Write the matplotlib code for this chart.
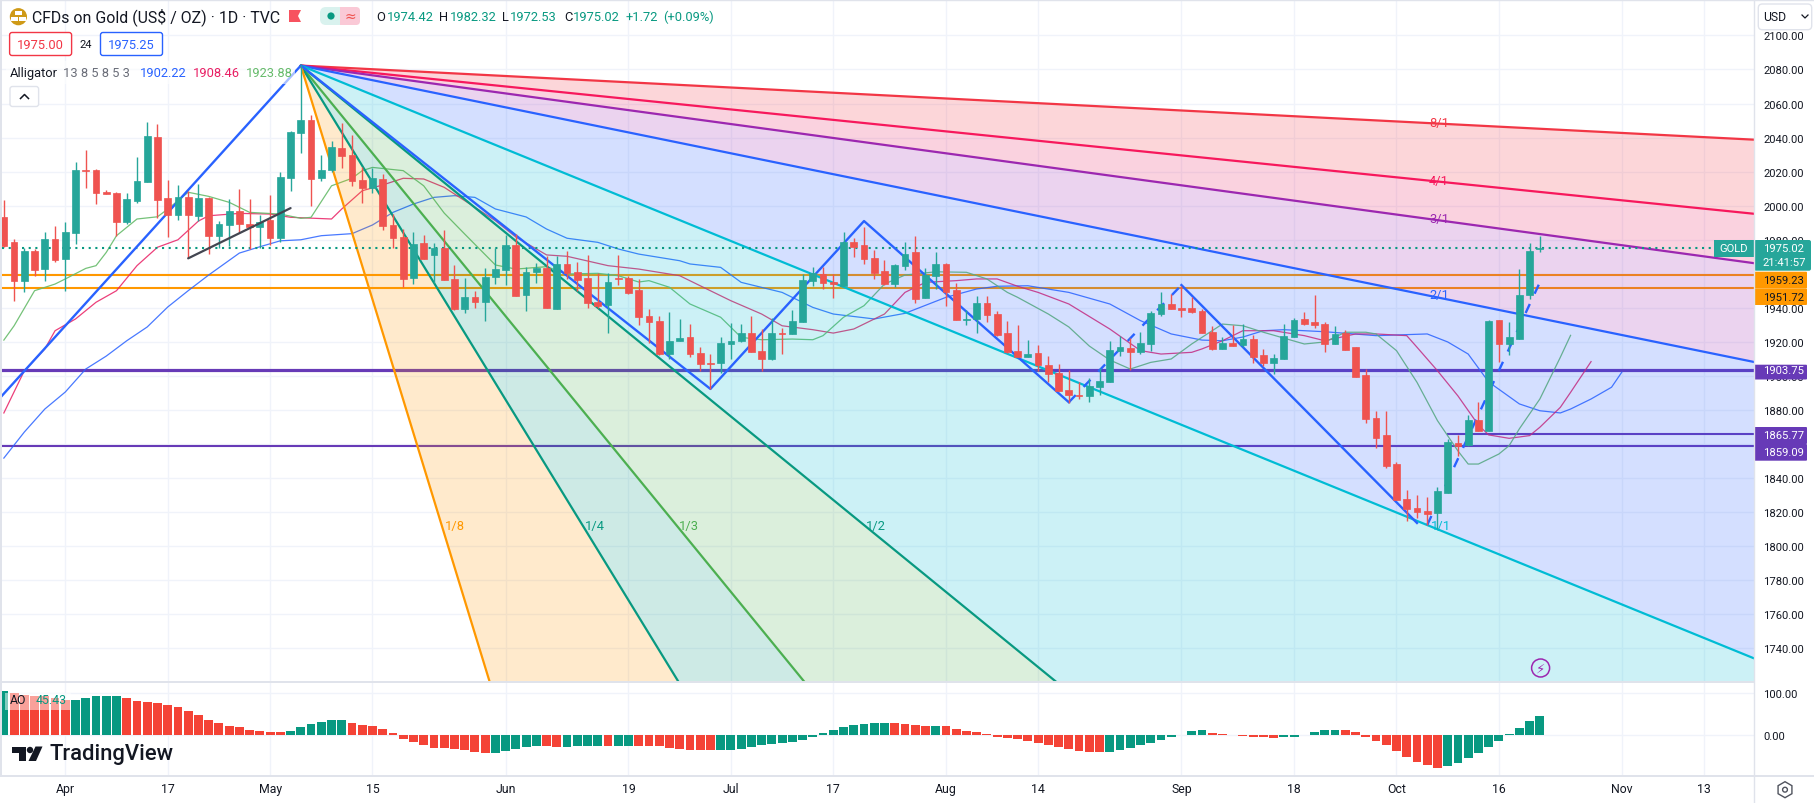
import numpy as np
import matplotlib
matplotlib.use("Agg")
import matplotlib.pyplot as plt
from matplotlib.patches import Rectangle, FancyBboxPatch, Circle, Polygon, RegularPolygon

plt.rcParams['font.family'] = ['Roboto', 'DejaVu Sans']

# ==================== data ====================
first_bar = -6  # bar 0 is the Apr 3 tick

opens = [1993.4, 1978.7, 1955.8, 1973.4, 1962.9, 1980.5, 1968.7, 1984.0, 2021.0, 2021.0,
         2008.1, 2007.5, 1990.5, 2002.8, 2013.9, 2040.4, 2004.5, 1994.6, 2005.1, 1994.0,
         2004.5, 1982.2, 1988.7, 1996.9, 1989.3, 1987.5, 1991.6, 1981.1, 2016.3, 2042.7,
         2050.3, 2016.3, 2021.0, 2033.9, 2029.8, 2015.1, 2010.4, 2015.7, 1988.7, 1981.7,
         1957.6, 1978.1, 1971.1, 1975.2, 1957.0, 1939.4, 1946.4, 1943.5, 1958.2, 1962.3,
         1977.0, 1947.6, 1961.1, 1963.5, 1939.4, 1965.8, 1961.1, 1957.6, 1943.5, 1941.7,
         1957.6, 1957.5, 1950.5, 1935.2, 1932.3, 1912.9, 1920.6, 1922.9, 1913.5, 1907.6,
         1907.6, 1918.8, 1920.6, 1925.3, 1914.7, 1910.0, 1925.3, 1924.7, 1931.7, 1955.8,
         1959.9, 1955.2, 1952.9, 1978.7, 1976.9, 1969.3, 1961.7, 1954.0, 1964.6, 1972.8,
         1945.8, 1958.7, 1965.8, 1950.5, 1933.1, 1933.5, 1942.9, 1936.4, 1925.3, 1914.7,
         1911.2, 1913.5, 1906.5, 1901.8, 1891.8, 1888.9, 1888.3, 1893.6, 1896.5, 1914.7,
         1916.5, 1914.1, 1918.8, 1936.4, 1942.3, 1939.9, 1939.9, 1938.2, 1925.8, 1915.9,
         1919.4, 1918.2, 1921.7, 1912.4, 1907.6, 1910.0, 1922.9, 1933.5, 1931.7, 1930.5,
         1918.8, 1925.3, 1917.0, 1900.6, 1875.4, 1865.4, 1848.4, 1827.8, 1822.5, 1820.8,
         1819.6, 1831.3, 1860.7, 1859.5, 1874.2, 1867.7, 1932.9, 1918.8, 1921.7, 1947.6,
         1974.42]
closes = [1976.4, 1955.8, 1973.4, 1962.3, 1980.5, 1968.1, 1984.6, 2021.0, 2020.6, 2007.5,
          2006.9, 1990.5, 2004.0, 2014.5, 2041.0, 2003.4, 1994.6, 2005.1, 1994.6, 2004.5,
          1982.2, 1989.3, 1996.9, 1989.3, 1987.5, 1990.3, 1981.1, 2016.9, 2043.3, 2050.3,
          2015.7, 2021.0, 2034.5, 2029.2, 2014.5, 2010.4, 2016.3, 1988.1, 1981.1, 1957.0,
          1977.5, 1968.7, 1975.2, 1956.4, 1939.4, 1946.4, 1943.5, 1958.2, 1962.9, 1977.0,
          1947.0, 1961.1, 1963.6, 1940.0, 1965.8, 1960.5, 1956.4, 1942.9, 1941.1, 1955.2,
          1957.0, 1948.7, 1934.7, 1931.7, 1912.9, 1920.6, 1922.3, 1912.9, 1907.1, 1907.1,
          1919.4, 1920.6, 1925.3, 1914.1, 1910.0, 1925.3, 1924.7, 1932.3, 1956.4, 1960.5,
          1954.6, 1954.0, 1978.7, 1975.7, 1968.7, 1960.5, 1954.0, 1965.2, 1971.6, 1945.2,
          1959.3, 1965.8, 1949.3, 1932.9, 1933.5, 1942.9, 1935.8, 1924.1, 1914.1, 1911.2,
          1912.9, 1906.5, 1901.2, 1891.2, 1888.9, 1888.3, 1894.1, 1897.1, 1915.3, 1917.1,
          1914.1, 1919.4, 1937.0, 1942.3, 1939.4, 1938.8, 1937.6, 1925.3, 1915.9, 1919.4,
          1917.8, 1921.7, 1911.2, 1907.6, 1910.6, 1923.7, 1932.9, 1930.5, 1930.0, 1918.8,
          1924.7, 1915.3, 1899.4, 1874.8, 1863.6, 1847.2, 1827.2, 1821.9, 1820.2, 1819.0,
          1832.5, 1861.3, 1858.9, 1874.2, 1867.7, 1932.3, 1918.8, 1922.9, 1947.6, 1973.4,
          1975.02]
highs = [2003.6, 1980.5, 1975.4, 1974.6, 1984.6, 1988.1, 1990.5, 2025.7, 2032.7, 2021.6,
         2009.2, 2008.1, 2007.5, 2028.6, 2049.2, 2048.0, 2015.1, 2012.2, 2008.7, 2012.8,
         2005.1, 1990.9, 2004.0, 2009.8, 2004.0, 1994.6, 2006.3, 2019.8, 2043.6, 2082.6,
         2053.3, 2029.8, 2038.0, 2048.6, 2041.5, 2022.7, 2022.2, 2018.6, 1995.2, 1986.3,
         1984.6, 1982.8, 1978.1, 1985.8, 1965.2, 1957.6, 1949.9, 1963.5, 1975.2, 1982.8,
         1983.4, 1964.0, 1966.4, 1970.5, 1970.5, 1973.4, 1967.0, 1971.1, 1960.5, 1960.5,
         1971.1, 1958.7, 1957.0, 1939.4, 1935.2, 1937.6, 1933.5, 1930.6, 1917.1, 1912.9,
         1922.9, 1931.1, 1930.6, 1935.2, 1927.6, 1934.1, 1928.2, 1938.8, 1959.9, 1964.0,
         1964.0, 1959.9, 1984.6, 1981.0, 1987.5, 1974.0, 1968.1, 1965.8, 1978.7, 1982.2,
         1963.4, 1972.8, 1966.4, 1954.6, 1938.8, 1947.0, 1947.0, 1938.2, 1932.3, 1930.0,
         1921.2, 1918.2, 1911.8, 1907.1, 1903.6, 1896.5, 1898.8, 1904.7, 1920.6, 1923.5,
         1922.3, 1925.8, 1938.2, 1949.3, 1948.2, 1952.9, 1946.4, 1939.4, 1929.4, 1922.7,
         1930.0, 1930.5, 1924.1, 1915.9, 1912.9, 1930.5, 1934.1, 1937.6, 1947.6, 1931.7,
         1929.4, 1927.0, 1917.0, 1904.1, 1879.5, 1879.5, 1849.5, 1833.1, 1830.2, 1829.0,
         1834.9, 1863.0, 1865.4, 1877.1, 1884.8, 1932.9, 1932.9, 1931.7, 1962.8, 1978.1,
         1982.32]
lows = [1975.6, 1944.1, 1949.4, 1959.0, 1955.8, 1967.0, 1949.9, 1977.5, 2010.4, 2001.0,
        2006.9, 1982.2, 1989.3, 2001.6, 2013.9, 1992.8, 1981.7, 1991.6, 1969.3, 1991.0,
        1971.7, 1975.2, 1976.4, 1984.0, 1974.6, 1975.2, 1977.0, 1978.7, 2008.7, 2030.9,
        1999.9, 2014.5, 2019.8, 2022.2, 2011.6, 2001.6, 2007.5, 1985.8, 1975.2, 1952.3,
        1954.1, 1968.7, 1954.6, 1956.4, 1938.8, 1937.0, 1940.0, 1932.3, 1954.1, 1953.5,
        1947.0, 1938.2, 1954.6, 1940.0, 1939.4, 1957.0, 1949.9, 1940.0, 1940.0, 1925.3,
        1953.5, 1948.2, 1930.0, 1919.4, 1912.5, 1910.0, 1920.6, 1911.2, 1903.0, 1892.4,
        1901.8, 1910.0, 1920.0, 1914.1, 1903.0, 1909.4, 1912.9, 1924.7, 1931.7, 1952.8,
        1951.1, 1945.8, 1952.9, 1969.9, 1965.8, 1957.0, 1953.4, 1952.3, 1962.2, 1942.9,
        1945.8, 1951.1, 1941.1, 1932.9, 1930.0, 1925.3, 1931.7, 1923.5, 1913.5, 1911.2,
        1911.2, 1903.0, 1896.5, 1891.2, 1884.2, 1886.5, 1884.8, 1888.9, 1896.5, 1911.8,
        1903.6, 1912.9, 1914.7, 1935.2, 1939.4, 1934.7, 1937.0, 1925.3, 1915.3, 1915.9,
        1917.5, 1916.8, 1907.6, 1905.9, 1901.2, 1910.0, 1922.9, 1930.0, 1928.2, 1914.1,
        1918.8, 1915.3, 1899.4, 1872.4, 1857.8, 1846.0, 1827.2, 1814.9, 1816.7, 1812.5,
        1810.2, 1831.3, 1853.0, 1858.9, 1867.7, 1867.7, 1908.2, 1912.4, 1921.7, 1945.2,
        1972.53]

# Alligator, read at selected bars
jaw_bars = [-6, -4, -2, 0, 2, 4, 6, 8, 10, 12, 14, 17, 19, 21, 23, 25, 28, 30, 32, 34, 36, 38, 40, 42, 45, 47, 49,
            52, 54, 56, 60, 61, 64, 66, 70, 73, 75, 79, 82, 86, 89, 91, 94, 98, 102, 105, 108, 111, 113, 115, 117,
            119, 123, 128, 133, 135, 137, 139, 142, 144, 146, 147, 149, 151, 152]
jaw_vals = [1851.8, 1867.1, 1880.6, 1890.6, 1904.1, 1911.7, 1920.7, 1928.8, 1940.5, 1950.1, 1959.3, 1972.2, 1975.9,
            1979.4, 1980.0, 1982.4, 1983.6, 1988.7, 1996.1, 2001.0, 2004.9, 2005.9, 2004.9, 1998.1, 1993.4, 1986.3,
            1980.9, 1978.5, 1974.6, 1971.6, 1967.7, 1965.8, 1963.8, 1955.0, 1949.1, 1940.3, 1936.4, 1933.5, 1936.8,
            1946.2, 1951.1, 1952.7, 1953.0, 1949.1, 1942.3, 1932.5, 1924.7, 1921.1, 1920.7, 1922.9, 1926.6, 1927.2,
            1926.0, 1923.7, 1924.7, 1920.0, 1912.9, 1896.5, 1883.6, 1879.6, 1878.3, 1880.6, 1886.5, 1893.4, 1902.22]
teeth_bars = [-6, -4, -2, -1, 1, 3, 5, 7, 9, 11, 13, 14, 17, 20, 22, 26, 27, 29, 31, 33, 35, 37, 40, 42, 44, 47, 49,
              53, 56, 60, 62, 65, 68, 70, 73, 75, 77, 80, 82, 84, 87, 89, 91, 93, 95, 98, 102, 105, 107, 110, 111,
              113, 115, 118, 121, 123, 126, 128, 131, 132, 134, 136, 138, 139, 141, 143, 144, 146, 147, 149]
teeth_vals = [1878.3, 1903.1, 1915.9, 1926.6, 1933.5, 1943.3, 1950.1, 1964.8, 1975.6, 1980.0, 1991.0, 1994.1, 1995.5,
              1995.1, 1993.2, 1992.2, 1998.1, 2008.8, 2012.2, 2016.1, 2015.7, 2010.8, 1999.1, 1991.2, 1981.6, 1971.1,
              1970.3, 1964.8, 1962.8, 1958.9, 1953.0, 1944.2, 1936.4, 1929.5, 1927.2, 1925.2, 1927.6, 1936.4, 1949.1,
              1955.0, 1956.0, 1957.0, 1957.0, 1952.7, 1949.1, 1942.3, 1927.6, 1914.9, 1912.9, 1913.9, 1915.9, 1920.7,
              1926.6, 1926.6, 1923.7, 1920.7, 1924.7, 1924.7, 1923.7, 1916.9, 1903.1, 1888.3, 1871.2, 1865.4, 1863.4,
              1865.0, 1869.9, 1881.6, 1890.4, 1908.46]
lips_bars = [-6, -5, -3, -1, 0, 2, 3, 4, 5, 7, 9, 10, 12, 14, 16, 18, 21, 23, 24, 26, 28, 29, 30, 33, 35, 37, 39, 42,
             44, 47, 49, 52, 54, 56, 57, 59, 61, 64, 66, 68, 71, 73, 74, 76, 78, 80, 82, 83, 85, 88, 90, 92, 93, 96,
             98, 100, 102, 104, 106, 108, 110, 113, 115, 117, 121, 123, 125, 127, 128, 130, 132, 134, 136, 137, 138,
             140, 141, 142, 144, 146, 147]
lips_vals = [1921.1, 1929.5, 1950.1, 1954.0, 1957.0, 1963.2, 1964.8, 1972.6, 1982.4, 1992.2, 1993.5, 1998.0, 2007.9,
             2005.5, 2002.0, 1996.1, 1995.1, 1992.6, 1993.2, 2011.7, 2016.1, 2020.6, 2022.5, 2020.6, 2011.7, 1995.7,
             1983.4, 1965.2, 1962.8, 1964.2, 1959.9, 1960.3, 1958.9, 1955.2, 1956.0, 1952.1, 1942.3, 1934.5, 1922.7,
             1921.3, 1921.7, 1921.3, 1923.7, 1934.5, 1941.3, 1954.0, 1959.3, 1959.9, 1961.2, 1960.9, 1957.0, 1949.1,
             1946.2, 1936.4, 1928.8, 1917.6, 1909.4, 1904.1, 1908.0, 1910.0, 1918.8, 1930.5, 1929.5, 1925.7, 1918.8,
             1920.0, 1925.7, 1925.7, 1924.7, 1914.9, 1896.3, 1873.8, 1856.0, 1848.3, 1848.3, 1854.2, 1859.1, 1869.0,
             1886.5, 1911.0, 1923.88]

# AO histogram, one value per bar
ao_vals = [106.3, 100.6, 95.8, 94.2, 92.6, 88.6, 83.7, 83.7, 88.6, 93.4,
           93.4, 93.4, 88.6, 82.1, 78.9, 76.5, 72.5, 66.8, 57.2, 47.5,
           35.4, 29.0, 20.9, 18.5, 11.3, 8.9, 6.4, 6.4, 8.9, 18.5,
           25.8, 30.6, 35.4, 35.4, 28.2, 23.3, 20.9, 13.7, 4.0, -10.5,
           -17.7, -25.0, -32.2, -32.2, -34.6, -37.0, -41.9, -44.3, -44.3, -39.4,
           -34.6, -29.8, -27.4, -27.4, -29.8, -29.8, -27.4, -27.4, -27.4, -27.4,
           -27.4, -27.4, -27.4, -27.4, -27.4, -32.2, -34.6, -37.0, -37.0, -37.0,
           -37.0, -37.0, -34.6, -29.8, -25.0, -22.5, -20.1, -17.7, -12.9, -5.6,
           4.0, 11.3, 18.5, 23.3, 25.8, 28.2, 28.2, 28.2, 25.8, 23.3,
           20.9, 20.9, 20.9, 13.7, 8.9, 6.4, 1.6, -5.6, -8.1, -10.5,
           -15.3, -20.1, -25.0, -29.8, -34.6, -39.4, -41.9, -41.9, -41.9, -37.0,
           -32.2, -25.0, -20.1, -12.9, -5.6, -0.8, 8.9, 11.3, 4.0, 1.6,
           -0.8, -3.2, -5.6, -5.6, -8.1, -5.6, -5.6, -0.8, 6.4, 11.3,
           11.3, 11.3, 6.4, -5.6, -15.3, -25.0, -39.4, -53.9, -66.0, -73.3,
           -80.5, -75.7, -68.4, -56.4, -44.3, -29.8, -15.3, 1.6, 16.1, 33.0,
           45.43]
# run lengths of rising / falling AO bars, starts with rising
ao_runs = [1, 6, 5, 16, 6, 14, 5, 2, 4, 1, 2, 8, 17, 4, 1, 16, 10, 7, 6, 10, 10]

# Gann fan
fan_apex_bar = 23
fan_apex_price = 2082.3
fan_base_slope = 2.453
fan_names = ['8/1', '4/1', '3/1', '2/1', '1/1', '1/2', '1/3', '1/4', '1/8']
fan_ratios = [8, 4, 3, 2, 1, 1 / 2, 1 / 3, 1 / 4, 1 / 8]

# blue zigzag
zig_bars = [-7, 23, 63, 78, 98]
zig_vals = [1883.0, 2082.3, 1892.4, 1991.0, 1884.6]
zig_dash1_bars = [98, 109]
zig_dash1_vals = [1884.6, 1953.4]
zig_down_bars = [109, 132]
zig_down_vals = [1953.4, 1813.7]
zig_dash2_bars = [133, 144]
zig_dash2_vals = [1812.5, 1955.0]

trend_bars = [12, 22]
trend_vals = [1969.1, 1998.6]

tick_bars = [0, 10, 20, 30, 43, 55, 65, 75, 86, 95, 109, 120, 130, 140, 152, 160]
tick_names = ['Apr', '17', 'May', '15', 'Jun', '19', 'Jul', '17', 'Aug', '14', 'Sep', '18', 'Oct', '16', 'Nov', '13']
price_ticks = list(range(1740, 2101, 20))
hidden_ticks = [1860, 1960]  # covered by the price tags in the screenshot
last_price = 1975.02

# ==================== colours ====================
UP = '#26a69a'
DOWN = '#ef5350'
TEAL = '#089981'
ORANGE = '#ff9800'
PURPLE = '#673ab7'
BLUE = '#2962ff'
PINK = '#e91e63'
GRID = '#f0f3fa'
BORDER = '#e0e3eb'
INK = '#131722'
fan_colors = ['#f23645', '#f7185c', '#9c27b0', BLUE, '#00bcd4', TEAL, '#4caf50', TEAL, ORANGE]
fill_colors = ['#f23645', '#e91e63', '#9c27b0', BLUE, '#00bcd4', '#4caf50', TEAL, ORANGE]

# ==================== layout ====================
W, H = 1815, 804
PANE_L, PANE_R = 2, 1754
PRICE_B, AO_B = 683, 777
BAR0_PX, BAR_PX = 65.3, 10.24
AXIS_SIZE = 8.1
HEAD_SIZE = 9.3
xlim = ((PANE_L - BAR0_PX) / BAR_PX, (PANE_R - BAR0_PX) / BAR_PX)

fig = plt.figure(figsize=(W / 100, H / 100), dpi=100, facecolor='white')
ax = fig.add_axes([PANE_L / W, (H - PRICE_B) / H, (PANE_R - PANE_L) / W, PRICE_B / H])
ax2 = fig.add_axes([PANE_L / W, (H - AO_B) / H, (PANE_R - PANE_L) / W, (AO_B - PRICE_B) / H])
ui = fig.add_axes([0, 0, 1, 1], zorder=10)
ui.set_xlim(0, W)
ui.set_ylim(H, 0)
ui.axis('off')
ui.patch.set_alpha(0)

bars = np.arange(first_bar, first_bar + len(opens))
o, h, l, c = map(np.array, (opens, highs, lows, closes))
candle_colors = [UP if a >= b else DOWN for a, b in zip(c, o)]

# price pane
ax.set_xlim(*xlim)
ax.set_ylim(1720.3, 2121.4)
ax.set_axisbelow(True)
ax.grid(True, color=GRID, linewidth=1.0)
ax.set_xticks(tick_bars)
ax.set_xticklabels([])
ax.set_yticks(price_ticks)
ax.set_yticklabels(['' if p in hidden_ticks else f'{p:.2f}' for p in price_ticks])
ax.yaxis.tick_right()
ax.tick_params(axis='both', length=0, labelsize=AXIS_SIZE, labelcolor=INK)
ax.tick_params(axis='y', pad=6.5)
for s in ax.spines.values():
    s.set_visible(False)

# drawn under the fan, its tint lies over them
ax.axhline(1959.23, color=ORANGE, lw=1.5, zorder=1)
ax.axhline(1951.72, color=ORANGE, lw=1.5, zorder=1)
ax.axhline(1903.75, color=PURPLE, lw=2.3, zorder=1)
ax.axhline(1859.09, color=PURPLE, lw=1.5, zorder=1)
ax.plot([135, xlim[1]], [1865.77, 1865.77], color=PURPLE, lw=1.5, zorder=1)
ax.plot(jaw_bars, jaw_vals, color=BLUE, lw=0.9, alpha=0.85, zorder=1.2)
ax.plot(teeth_bars, teeth_vals, color=PINK, lw=0.9, alpha=0.85, zorder=1.2)
ax.plot(lips_bars, lips_vals, color='#66bb6a', lw=0.9, alpha=0.9, zorder=1.2)

# gann fan
fan_x = np.array([fan_apex_bar, xlim[1]])
fan_y = [fan_apex_price - fan_base_slope / r * (fan_x - fan_apex_bar) for r in fan_ratios]
for i in range(len(fill_colors)):
    ax.fill_between(fan_x, fan_y[i], fan_y[i + 1], color=fill_colors[i], alpha=0.2, linewidth=0, zorder=2)
for y, col in zip(fan_y, fan_colors):
    ax.plot(fan_x, y, color=col, lw=1.6, zorder=3, solid_capstyle='round')

ax.axhline(last_price, color=TEAL, lw=1.5, linestyle=(0, (1, 2.2)), zorder=3)

# zigzag
ax.plot(zig_bars, zig_vals, color=BLUE, lw=1.7, zorder=3.2)
ax.plot(zig_down_bars, zig_down_vals, color=BLUE, lw=1.7, zorder=3.2)
ax.plot(zig_dash1_bars, zig_dash1_vals, color=BLUE, lw=1.7, linestyle=(0, (4.2, 4.8)), zorder=3.2)
ax.plot(zig_dash2_bars, zig_dash2_vals, color=BLUE, lw=1.7, linestyle=(0, (4.2, 4.8)), zorder=3.2)

# candles
ax.vlines(bars, l, h, colors=candle_colors, lw=1.0, zorder=4)
ax.bar(bars, np.abs(c - o), bottom=np.minimum(o, c), width=0.66, color=candle_colors,
       edgecolor=candle_colors, linewidth=0.5, zorder=4.1)
ax.plot(trend_bars, trend_vals, color='#434651', lw=1.6, zorder=5, solid_capstyle='round')

# AO pane
ao_up = np.repeat([i % 2 == 0 for i in range(len(ao_runs))], ao_runs)
ax2.set_xlim(*xlim)
ax2.set_ylim(-99.8, 127.3)
ax2.set_axisbelow(True)
ax2.grid(True, color=GRID, linewidth=1.0)
ax2.bar(bars, ao_vals, width=0.86, color=[TEAL if u else '#f44336' for u in ao_up], linewidth=0, zorder=2)
ax2.set_xticks(tick_bars)
ax2.set_xticklabels(tick_names)
ax2.set_yticks([0, 100])
ax2.set_yticklabels(['0.00', '100.00'])
ax2.yaxis.tick_right()
ax2.tick_params(axis='both', length=0, labelsize=AXIS_SIZE, labelcolor=INK)
ax2.tick_params(axis='y', pad=6.5)
ax2.tick_params(axis='x', pad=4.5, labelsize=8.8)
for s in ax2.spines.values():
    s.set_visible(False)


def label(x, y, s, color=INK, size=AXIS_SIZE, ha='left', **kw):
    ui.text(x, y, s, color=color, fontsize=size, ha=ha, va='center', **kw)


def rbox(x0, y0, x1, y1, fc='none', ec='none', lw=1.0, r=2.5, **kw):
    ui.add_patch(FancyBboxPatch((x0 + r, y0 + r), x1 - x0 - 2 * r, y1 - y0 - 2 * r,
                                boxstyle=f'round,pad={r},rounding_size={r}', fc=fc, ec=ec, lw=lw, **kw))


# pane borders
ui.plot([0, PANE_R], [PRICE_B, PRICE_B], color=BORDER, lw=1.4)
ui.plot([0, W], [AO_B, AO_B], color=BORDER, lw=1.4)
ui.plot([0, W], [0.5, 0.5], color=BORDER, lw=1.0)
ui.plot([PANE_R, PANE_R], [0, H], color=BORDER, lw=1.0)
ui.plot([0.8, 0.8], [0, AO_B], color=BORDER, lw=1.4)

# fan labels
label_spots = [(1439, 123), (1439, 182), (1439, 220), (1439, 296), (1441, 527), (876, 527), (689, 527), (595, 527), (455, 527)]
for (x, y), name, col in zip(label_spots, fan_names, fan_colors):
    label(x, y, name, color=col, size=9.3, ha='center')

# header
ui.add_patch(Circle((18.4, 17.7), 8.6, fc='#cf9a17', ec='none'))
for bx, by in [(15, 11.5), (10.8, 17.5), (19, 17.5)]:
    ui.add_patch(Rectangle((bx, by), 7, 4.4, fc='white', ec='none'))
label(32, 17.5, 'CFDs on Gold (US$ / OZ) · 1D · TVC', size=11.4)
ui.add_patch(Polygon([(289, 11), (301, 11), (298, 17), (301, 23), (289, 23)], fc='#f7525f', ec='none'))
rbox(320, 8, 360, 26, fc='#d9f2ee', r=6)
rbox(340, 8, 360, 26, fc='#fac9d6', r=4)
ui.add_patch(Rectangle((340, 8), 5, 18, fc='#fac9d6', ec='none'))
ui.add_patch(Circle((331, 17), 3.6, fc=TEAL, ec='none'))
label(350, 16.5, '≈', color=DOWN, size=10, ha='center', family='DejaVu Sans')
for x, s, col in [(376.5, 'O', INK), (386.6, '1974.42', TEAL), (439.4, 'H', INK), (449.5, '1982.32', TEAL),
                  (502.3, 'L', INK), (509.6, '1972.53', TEAL), (563.8, 'C', INK), (572.5, '1975.02', TEAL),
                  (625.3, '+1.72', TEAL), (663.5, '(+0.09%)', TEAL)]:
    label(x, 17.5, s, color=col, size=HEAD_SIZE)

rbox(9.6, 33.5, 71.6, 56.5, ec='#f23645', fc='white')
label(40.6, 45.5, '1975.00', color='#f23645', size=HEAD_SIZE, ha='center')
label(86, 45, '24', size=AXIS_SIZE, ha='center')
rbox(100.5, 33.5, 162.5, 56.5, ec=BLUE, fc='white')
label(131.5, 45.5, '1975.25', color=BLUE, size=HEAD_SIZE, ha='center')

ui.add_patch(Rectangle((6, 62), 289, 23, fc='white', ec='none', alpha=0.6))
for x, s, col in [(10, 'Alligator', INK), (63.4, '13 8 5 8 5 3', '#6a6d78'), (140, '1902.22', BLUE),
                  (193.3, '1908.46', PINK), (246, '1923.88', '#66bb6a')]:
    label(x, 73.3, s, color=col, size=HEAD_SIZE)
rbox(10, 87.5, 38.6, 107.5, ec=BORDER, fc='white', lw=1.0)
ui.plot([20.5, 24.5, 28.5], [99.5, 95.5, 99.5], color=INK, lw=1.1)

# AO legend, logo
ui.add_patch(Rectangle((5, 694), 66.4, 16.7, fc='white', ec='none', alpha=0.5))
label(10, 700.5, 'AO', size=8.8)
label(35.7, 700.5, '45.43', color=TEAL, size=8.8)
ui.add_patch(Polygon([(12, 747.5), (26, 747.5), (26, 762), (19, 762), (19, 754), (12, 754)], fc=INK, ec='none'))
ui.add_patch(Circle((30, 751), 3.2, fc=INK, ec='none'))
ui.add_patch(Polygon([(35.5, 747.5), (42.5, 747.5), (36, 762), (28.5, 762)], fc=INK, ec='none'))
label(50, 755, 'TradingView', size=15.8, weight='medium')

# lightning mark
ui.add_patch(Circle((1540.6, 669), 9, fc='none', ec='#9c27b0', lw=1.1))
label(1540.6, 669, '⚡', color='#9c27b0', size=9.5, ha='center', family='DejaVu Sans')

# price tags
TAG_R = 1807
ui.add_patch(Rectangle((1714, 241), 40, 16.7, fc=UP, ec='none'))
label(1734, 249.3, 'GOLD', color='white', ha='center')
rbox(PANE_R, 241, 1811, 271.7, fc=UP, r=2)
label(1763, 249.3, '1975.02', color='white')
label(1763, 263, '21:41:57', color='white')
rbox(PANE_R, 272.7, TAG_R, 289.5, fc=ORANGE, r=1)
label(1763, 281, '1959.23')
rbox(PANE_R, 289.5, TAG_R, 306, fc=ORANGE, r=1)
label(1763, 298, '1951.72')
rbox(PANE_R, 365.7, TAG_R, 380.5, fc=PURPLE, r=1)
label(1763, 371.5, '1903.75', color='white')
rbox(PANE_R, 428, TAG_R, 445, fc=PURPLE, r=1)
label(1763, 436.5, '1865.77', color='white')
rbox(PANE_R, 445, TAG_R, 461.7, fc=PURPLE, r=1)
label(1763, 453.5, '1859.09', color='white')

# USD button, gear
rbox(1758.3, 5, 1811.7, 30.7, ec=BORDER, fc='white', r=4)
label(1762.7, 17.5, 'USD', size=8.8)
ui.plot([1802, 1805, 1808], [16, 19, 16], color=INK, lw=0.9)
ui.add_patch(RegularPolygon((1785, 790.7), 6, radius=8, fc='none', ec='#50535e', lw=1.0))
ui.add_patch(Circle((1785, 790.7), 2.4, fc='none', ec='#50535e', lw=1.0))

fig.savefig('out.png', dpi=100, facecolor='white')
